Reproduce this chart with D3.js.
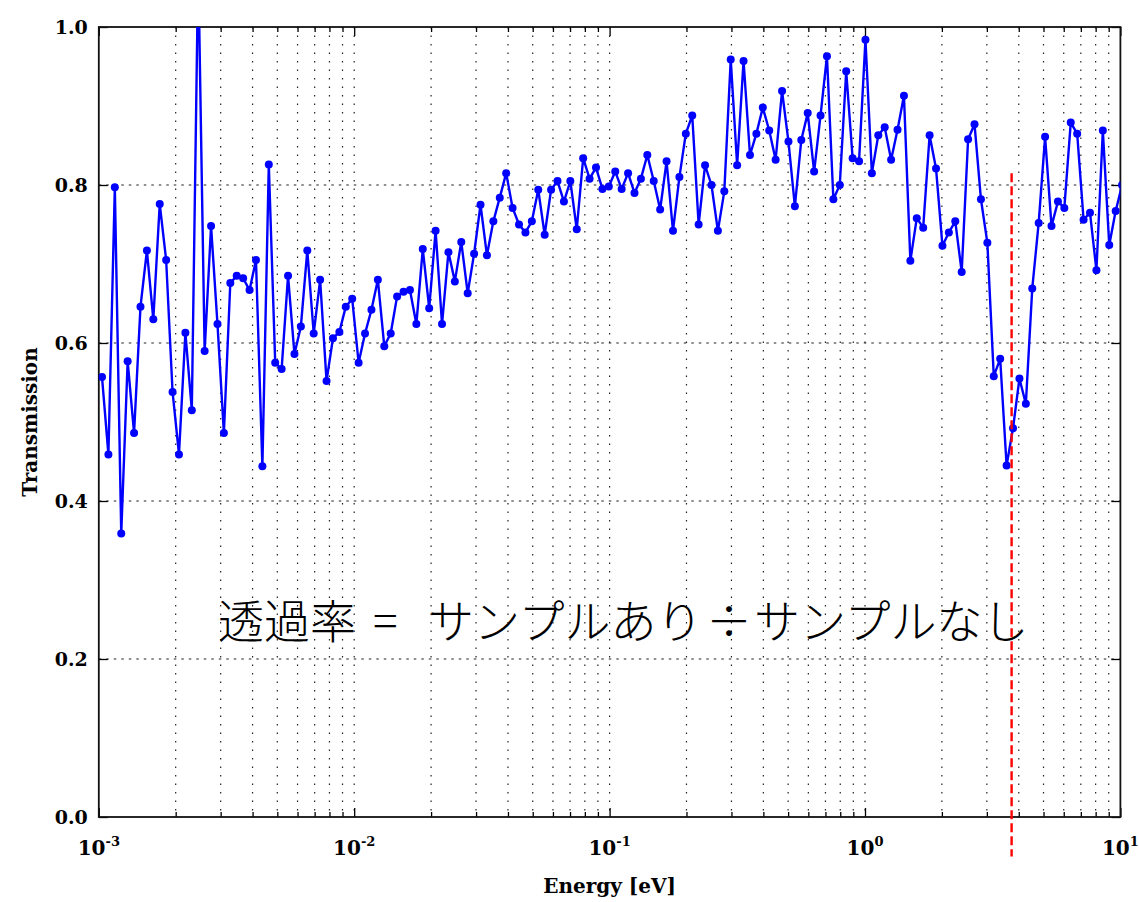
<!DOCTYPE html>
<html>
<head>
<meta charset="utf-8">
<script src="https://cdn.jsdelivr.net/npm/d3@7"></script>
<style>
  body { margin: 0; background: #fff; }
  svg text { fill: #000; }
</style>
</head>
<body>
<svg id="chart" width="1139" height="902"></svg>
<script>
// Energy grid: log-spaced bin centres (log10 of energy in eV)
const logEnergyStart = -2.9875;
const logEnergyStep = 0.02512;

// Measured transmission per energy bin
const transmission = [
  0.557, 0.459, 0.797, 0.359, 0.577, 0.486, 0.646, 0.717, 0.630, 0.776,
  0.705, 0.538, 0.459, 0.613, 0.515, 1.080, 0.590, 0.748, 0.624, 0.486,
  0.676, 0.685, 0.682, 0.667, 0.705, 0.444, 0.826, 0.575, 0.567, 0.685,
  0.586, 0.621, 0.717, 0.612, 0.680, 0.552, 0.606, 0.614, 0.646, 0.656,
  0.575, 0.612, 0.642, 0.680, 0.596, 0.612, 0.659, 0.665, 0.667, 0.624,
  0.719, 0.644, 0.742, 0.624, 0.715, 0.678, 0.728, 0.663, 0.713, 0.775,
  0.711, 0.754, 0.784, 0.815, 0.771, 0.750, 0.740, 0.754, 0.794, 0.737,
  0.794, 0.805, 0.779, 0.805, 0.744, 0.834, 0.808, 0.822, 0.795, 0.798,
  0.817, 0.795, 0.815, 0.790, 0.808, 0.838, 0.805, 0.769, 0.830, 0.742,
  0.810, 0.865, 0.888, 0.750, 0.825, 0.800, 0.742, 0.792, 0.959, 0.825,
  0.957, 0.838, 0.865, 0.898, 0.869, 0.832, 0.919, 0.855, 0.773, 0.857,
  0.891, 0.817, 0.888, 0.963, 0.782, 0.800, 0.944, 0.834, 0.830, 0.984,
  0.815, 0.863, 0.873, 0.832, 0.870, 0.913, 0.704, 0.758, 0.746, 0.863,
  0.821, 0.723, 0.740, 0.754, 0.690, 0.858, 0.877, 0.782, 0.727, 0.558,
  0.580, 0.445, 0.492, 0.555, 0.523, 0.669, 0.752, 0.861, 0.748, 0.779,
  0.771, 0.879, 0.865, 0.756, 0.765, 0.692, 0.869, 0.724, 0.767, 0.800
];

// Axis ticks
const decades = [1e-3, 1e-2, 1e-1, 1, 10];
const decadeExponents = ["-3", "-2", "-1", "0", "1"];
const yTicks = [0, 0.2, 0.4, 0.6, 0.8, 1.0];
const yTickLabels = ["0.0", "0.2", "0.4", "0.6", "0.8", "1.0"];

// Marker line at the absorption edge
const edgeEnergy = [3.75];
const edgeSpan = [-0.05, 0.815];

const annotation = ["透過率", "=", "サンプルあり", "÷", "サンプルなし"];

const energies = transmission.map((_, i) => Math.pow(10, logEnergyStart + i * logEnergyStep));
const points = energies.map((e, i) => ({ e, t: transmission[i] }));

const plotLeft = 98.8, plotRight = 1120.4, plotTop = 27, plotBottom = 817;
const x = d3.scaleLog().domain([1e-3, 10]).range([plotLeft, plotRight]);
const y = d3.scaleLinear().domain([0, 1]).range([plotBottom, plotTop]);

const svg = d3.select("#chart");
const serif = "'DejaVu Serif', serif";

svg.append("defs").append("clipPath").attr("id", "plot-clip")
  .append("rect").attr("x", plotLeft).attr("y", plotTop)
  .attr("width", plotRight - plotLeft).attr("height", plotBottom - plotTop);

// minor tick positions 2..9 within each decade
const minorTicks = [];
decades.slice(0, -1).forEach(d => { for (let m = 2; m <= 9; m++) minorTicks.push(d * m); });

// grid
const grid = svg.append("g").attr("class", "grid");
grid.selectAll("line.vx").data(decades.slice(1, -1).concat(minorTicks)).join("line")
  .attr("class", "vx")
  .attr("x1", d => x(d)).attr("x2", d => x(d))
  .attr("y1", plotTop).attr("y2", plotBottom)
  .attr("stroke", "#222").attr("stroke-width", 1.2)
  .attr("stroke-dasharray", "1.5,7");
grid.selectAll("line.hy").data(yTicks.slice(1, -1)).join("line")
  .attr("class", "hy")
  .attr("x1", plotLeft).attr("x2", plotRight)
  .attr("y1", d => y(d)).attr("y2", d => y(d))
  .attr("stroke", "#222").attr("stroke-width", 1.1)
  .attr("stroke-dasharray", "2.5,5");

// ticks (inward, all four sides)
const tickStyle = g => {
  g.select(".domain").remove();
  g.selectAll(".tick line").attr("stroke", "#000").attr("stroke-width", 1.3);
};
svg.append("g").attr("transform", `translate(0,${plotBottom})`)
  .call(d3.axisBottom(x).tickValues(decades).tickSize(-9).tickSizeOuter(0).tickFormat(() => ""))
  .call(tickStyle);
svg.append("g").attr("transform", `translate(0,${plotBottom})`)
  .call(d3.axisBottom(x).tickValues(minorTicks).tickSize(-5).tickSizeOuter(0).tickFormat(() => ""))
  .call(tickStyle);
svg.append("g").attr("transform", `translate(0,${plotTop})`)
  .call(d3.axisTop(x).tickValues(decades).tickSize(-9).tickSizeOuter(0).tickFormat(() => ""))
  .call(tickStyle);
svg.append("g").attr("transform", `translate(0,${plotTop})`)
  .call(d3.axisTop(x).tickValues(minorTicks).tickSize(-5).tickSizeOuter(0).tickFormat(() => ""))
  .call(tickStyle);
svg.append("g").attr("transform", `translate(${plotLeft},0)`)
  .call(d3.axisLeft(y).tickValues(yTicks).tickSize(-9).tickSizeOuter(0)
    .tickPadding(11).tickFormat((d, i) => yTickLabels[i]))
  .call(tickStyle)
  .call(g => g.selectAll(".tick text")
    .attr("font-family", serif).attr("font-weight", "bold").attr("font-size", 19));
svg.append("g").attr("transform", `translate(${plotRight},0)`)
  .call(d3.axisRight(y).tickValues(yTicks).tickSize(-9).tickSizeOuter(0).tickFormat(() => ""))
  .call(tickStyle);

// x tick labels with exponents
const xl = svg.append("g").selectAll("text").data(decades).join("text")
  .attr("x", d => x(d)).attr("y", plotBottom + 38)
  .attr("text-anchor", "middle")
  .attr("font-family", serif).attr("font-weight", "bold").attr("font-size", 20);
xl.append("tspan").text("10");
xl.append("tspan").attr("dy", -9).attr("font-size", 13).text((d, i) => decadeExponents[i]);

// frame
svg.append("rect").attr("x", plotLeft).attr("y", plotTop)
  .attr("width", plotRight - plotLeft).attr("height", plotBottom - plotTop)
  .attr("fill", "none").attr("stroke", "#111").attr("stroke-width", 1.8);

// data line + markers
const plot = svg.append("g").attr("clip-path", "url(#plot-clip)");
plot.append("path").datum(points)
  .attr("fill", "none").attr("stroke", "#0000ff").attr("stroke-width", 2.4)
  .attr("stroke-linejoin", "round")
  .attr("d", d3.line().x(d => x(d.e)).y(d => y(d.t)));
plot.selectAll("circle").data(points).join("circle")
  .attr("cx", d => x(d.e)).attr("cy", d => y(d.t)).attr("r", 4)
  .attr("fill", "#0000ff");

// absorption edge marker
svg.selectAll("line.edge").data(edgeEnergy).join("line")
  .attr("class", "edge")
  .attr("x1", d => x(d)).attr("x2", d => x(d))
  .attr("y1", y(edgeSpan[1])).attr("y2", y(edgeSpan[0]))
  .attr("stroke", "#ff0000").attr("stroke-width", 2.4)
  .attr("stroke-dasharray", "9,4");

// axis titles
svg.append("text").attr("x", (plotLeft + plotRight) / 2).attr("y", 893)
  .attr("text-anchor", "middle")
  .attr("font-family", serif).attr("font-weight", "bold").attr("font-size", 20)
  .text("Energy [eV]");
svg.append("text")
  .attr("transform", `translate(37,${(plotTop + plotBottom) / 2}) rotate(-90)`)
  .attr("text-anchor", "middle")
  .attr("font-family", serif).attr("font-weight", "bold").attr("font-size", 20)
  .text("Transmission");

// formula annotation
const ann = svg.append("text").attr("y", 638)
  .attr("font-family", "'Noto Sans CJK JP', sans-serif").attr("font-weight", 300)
  .attr("font-size", 46);
const annX = [218, 373, 428, 706, 754];
annotation.forEach((s, i) => ann.append("tspan").attr("x", annX[i]).text(s));
</script>
</body>
</html>
